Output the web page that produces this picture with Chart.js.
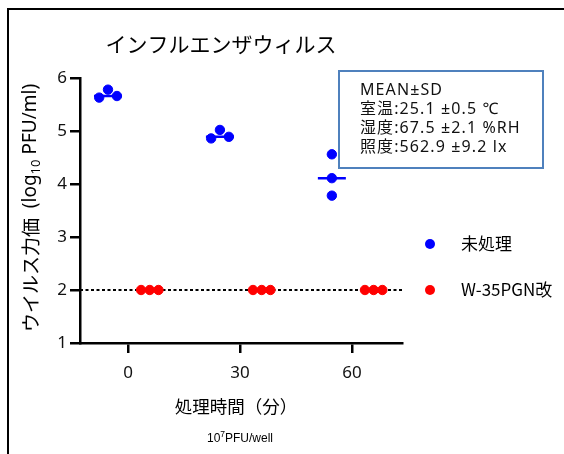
<!DOCTYPE html>
<html>
<head>
<meta charset="utf-8">
<script src="https://cdn.jsdelivr.net/npm/chart.js@4"></script>
<style>
  body { margin: 0; background: #fff; }
  #wrap { position: absolute; left: 0; top: 0; width: 564px; height: 454px; }
</style>
</head>
<body>
<div id="wrap"><canvas id="virusChart" width="564" height="454"></canvas></div>
<script>
// data
const timePoints = [0, 30, 60];
const xTickValues = [0, 30, 60];
const yTickValues = [1, 2, 3, 4, 5, 6];
const untreatedValues = [
  [5.63, 5.78, 5.66],
  [4.86, 5.02, 4.89],
  [4.56, 4.11, 3.78]
];
const treatedValues = [
  [2, 2, 2],
  [2, 2, 2],
  [2, 2, 2]
];
const detectionLimit = 2;
const seriesNames = ['未処理', 'W-35PGN改'];
const chartTitle = 'インフルエンザウィルス';
const xTitle = '処理時間（分）';
const footNote = ['10', '7', 'PFU/well'];
const infoLines = ['MEAN±SD', '室温:25.1 ±0.5 ℃', '湿度:67.5 ±2.1 %RH', '照度:562.9 ±9.2 lx'];

const BLUE = '#0000ff';
const RED = '#ff0000';
const JP = '"Noto Sans CJK JP", "Noto Sans", sans-serif';
const NUM = '"Noto Sans", "DejaVu Sans", sans-serif';
const MIX = '"Noto Sans", "Noto Sans CJK JP", sans-serif';

// beeswarm spread (x units) – layout only
const untreatedShift = -5.4, treatedShift = 5.8;
const untreatedSwarm = [[-2.35, 0, 2.4], [-2.35, 0, 2.4], [0, 0, 0]];
const treatedSwarm = [-2.33, 0, 2.33];
const medianHalf = 3.75;

function median(arr) {
  const s = [...arr].sort((a, b) => a - b);
  return s[Math.floor(s.length / 2)];
}

const untreatedPts = [];
const treatedPts = [];
const medianPts = [];
timePoints.forEach((t, i) => {
  untreatedValues[i].forEach((v, j) => {
    untreatedPts.push({ x: t + untreatedShift + untreatedSwarm[i][j], y: v });
  });
  treatedValues[i].forEach((v, j) => {
    treatedPts.push({ x: t + treatedShift + treatedSwarm[j], y: v });
  });
  const m = median(untreatedValues[i]);
  medianPts.push({ x: t + untreatedShift - medianHalf, y: m });
  medianPts.push({ x: t + untreatedShift + medianHalf, y: m });
  medianPts.push({ x: t + untreatedShift, y: null });
});

const xMin = -12.9, xMax = 73.4;

// draw text char by char with extra spacing
function spacedText(ctx, s, x, y, gap) {
  for (const ch of s) {
    ctx.fillText(ch, x, y);
    x += ctx.measureText(ch).width + gap;
  }
}

const overlay = {
  id: 'overlay',
  afterDraw(chart) {
    const ctx = chart.ctx;
    ctx.save();
    // outer frame
    ctx.strokeStyle = '#000';
    ctx.lineWidth = 2;
    ctx.beginPath();
    ctx.moveTo(8, 600);
    ctx.lineTo(8, 9);
    ctx.lineTo(600, 9);
    ctx.stroke();

    ctx.fillStyle = '#000';
    // title
    ctx.font = '21px ' + JP;
    ctx.textAlign = 'center';
    ctx.textBaseline = 'middle';
    ctx.fillText(chartTitle, 221, 44);

    // x title
    ctx.font = '17.5px ' + JP;
    ctx.fillText(xTitle, 236, 406);

    // footnote with superscript
    ctx.font = '12px "Liberation Sans", Arial, sans-serif';
    const w1 = ctx.measureText(footNote[0]).width;
    ctx.font = '8.5px "Liberation Sans", Arial, sans-serif';
    const w2 = ctx.measureText(footNote[1]).width;
    ctx.font = '12px "Liberation Sans", Arial, sans-serif';
    const w3 = ctx.measureText(footNote[2]).width;
    let fx = 240 - (w1 + w2 + w3) / 2;
    ctx.textAlign = 'left';
    ctx.fillText(footNote[0], fx, 439);
    ctx.font = '8.5px "Liberation Sans", Arial, sans-serif';
    ctx.fillText(footNote[1], fx + w1, 435);
    ctx.font = '12px "Liberation Sans", Arial, sans-serif';
    ctx.fillText(footNote[2], fx + w1 + w2, 439);

    // y title, rotated, with subscript
    ctx.translate(31, 208);
    ctx.rotate(-Math.PI / 2);
    const parts = [
      { t: 'ウイルス力価', f: '19px ' + JP, dy: 0 },
      { t: '  (log', f: '19px ' + NUM, dy: 0 },
      { t: '10', f: '13px ' + NUM, dy: 5 },
      { t: ' PFU/ml)', f: '19px ' + NUM, dy: 0 }
    ];
    let total = 0;
    parts.forEach(p => { ctx.font = p.f; p.w = ctx.measureText(p.t).width; total += p.w; });
    let px = -total / 2;
    parts.forEach(p => {
      ctx.font = p.f;
      ctx.fillText(p.t, px, p.dy);
      px += p.w;
    });
    ctx.restore();

    // info box
    ctx.save();
    ctx.strokeStyle = '#4f81bd';
    ctx.lineWidth = 2;
    ctx.strokeRect(339, 71, 204, 97);
    ctx.fillStyle = '#111';
    ctx.font = '16px ' + MIX;
    ctx.textAlign = 'left';
    ctx.textBaseline = 'middle';
    infoLines.forEach((s, i) => spacedText(ctx, s, 360, 90 + i * 19, 1.1));

    // legend
    const legendY = [244, 290];
    const legendC = [BLUE, RED];
    seriesNames.forEach((name, i) => {
      ctx.fillStyle = legendC[i];
      ctx.beginPath();
      ctx.arc(430, legendY[i], 5, 0, Math.PI * 2);
      ctx.fill();
      ctx.fillStyle = '#000';
      ctx.font = '17px ' + JP;
      ctx.fillText(name, 461, legendY[i]);
    });
    ctx.restore();
  }
};

new Chart(document.getElementById('virusChart'), {
  type: 'scatter',
  data: {
    datasets: [
      {
        label: seriesNames[0],
        data: untreatedPts,
        backgroundColor: BLUE,
        borderColor: BLUE,
        pointRadius: 4.7,
        order: 0
      },
      {
        label: seriesNames[1],
        data: treatedPts,
        backgroundColor: RED,
        borderColor: RED,
        pointRadius: 4.7,
        order: 0
      },
      {
        label: 'median',
        data: medianPts,
        showLine: true,
        spanGaps: false,
        borderColor: BLUE,
        borderWidth: 2.5,
        pointRadius: 0,
        order: 1
      },
      {
        label: 'limit',
        data: [{ x: xMin, y: detectionLimit }, { x: xMax, y: detectionLimit }],
        showLine: true,
        borderColor: '#000',
        borderWidth: 2,
        borderDash: [3, 2.5],
        pointRadius: 0,
        order: 2
      }
    ]
  },
  options: {
    responsive: false,
    animation: false,
    clip: false,
    layout: { padding: { left: 30, right: 162, top: 78, bottom: 71 } },
    plugins: {
      legend: { display: false },
      tooltip: { enabled: false }
    },
    scales: {
      x: {
        type: 'linear',
        min: xMin,
        max: xMax,
        afterBuildTicks: s => { s.ticks = xTickValues.map(v => ({ value: v })); },
        afterFit: s => { s.height = 40; },
        grid: { display: true, drawOnChartArea: false, drawTicks: true, tickLength: 10, color: '#000', lineWidth: 2.5 },
        border: { display: true, color: '#000', width: 2.5 },
        ticks: { color: '#111', font: { family: NUM, size: 17 }, padding: 10, maxRotation: 0 }
      },
      y: {
        type: 'linear',
        min: 1,
        max: 6,
        afterBuildTicks: s => { s.ticks = yTickValues.map(v => ({ value: v })); },
        afterFit: s => { s.width = 50; },
        grid: { display: true, drawOnChartArea: false, drawTicks: true, tickLength: 10, color: '#000', lineWidth: 2.5 },
        border: { display: true, color: '#000', width: 2.5 },
        ticks: { color: '#111', font: { family: NUM, size: 17 }, padding: 3 }
      }
    }
  },
  plugins: [overlay]
});
</script>
</body>
</html>
